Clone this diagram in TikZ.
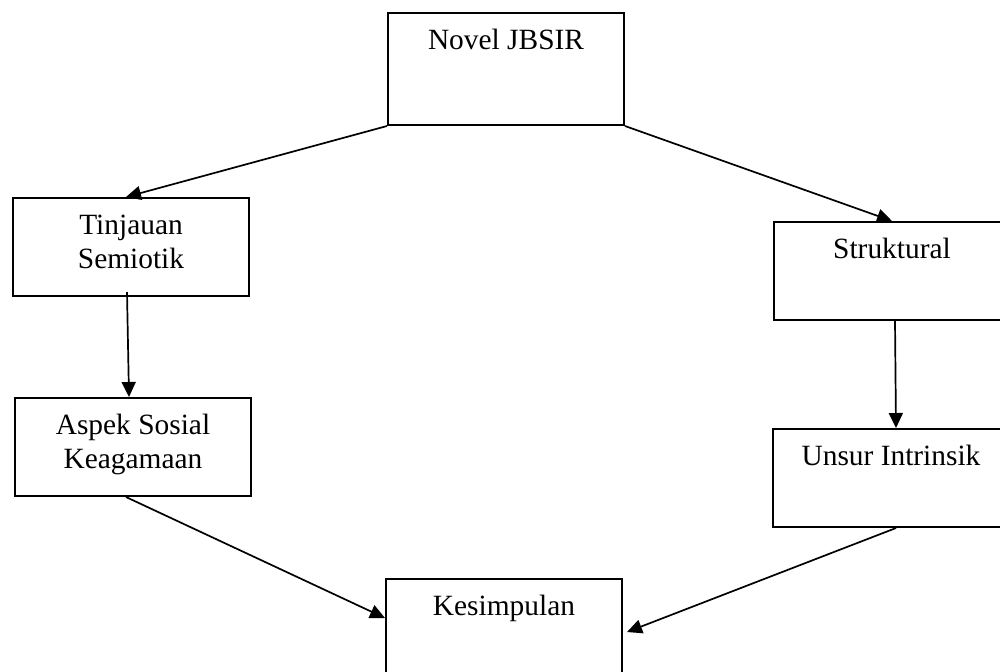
\documentclass[tikz,border=0pt]{standalone}
\usepackage{fontspec}
\setmainfont{Liberation Serif}
\usepackage{tikz}
\usetikzlibrary{arrows.meta,calc,positioning}

\newcommand{\boxlabel}[2][49pt]{\parbox[t][#1][t]{118pt}{\centering\rule{0pt}{18pt}#2}}

\begin{document}
\begin{tikzpicture}[x=0.5pt, y=-0.5pt, >={Triangle[length=7.5pt,width=7pt]},
  every node/.style={font=\fontsize{14.7}{17}\selectfont},
  box/.style={draw, line width=1pt, inner sep=0pt, anchor=north west},
  link/.style={->, line width=0.85pt}]
  \clip (0,0) rectangle (1000,671);
  \fill[white] (0,0) rectangle (1000,671);

  % boxes
  \node[box] (novel) at (387,12) {\boxlabel[56pt]{Novel JBSIR}};
  \node[box] (tinjauan) at (12,197) {\boxlabel{Tinjauan\\Semiotik}};
  \node[box] (struktural) at (773,221) {\boxlabel{Struktural}};
  \node[box] (aspek) at (14,397) {\boxlabel{Aspek Sosial\\Keagamaan}};
  \node[box] (unsur) at (772,428) {\boxlabel{Unsur Intrinsik}};
  \node[box] (kesimpulan) at (385,578) {\boxlabel{Kesimpulan}};

  % arrows
  \draw[link] (novel.south west) -- ([xshift=-2.5pt]tinjauan.north);
  \draw[link] (novel.south east) -- (struktural.north);
  \draw[link] ([xshift=-2pt,yshift=2.5pt]tinjauan.south) -- ([xshift=-2pt]aspek.north);
  \draw[link] ([xshift=1.5pt]struktural.south) -- ([xshift=2.5pt]unsur.north);
  \draw[link] ([xshift=-3.5pt]aspek.south) -- ([yshift=-20pt]kesimpulan.north west);
  \draw[link] ([xshift=2.5pt]unsur.south) -- ([xshift=2pt,yshift=-27pt]kesimpulan.north east);
\end{tikzpicture}
\end{document}
